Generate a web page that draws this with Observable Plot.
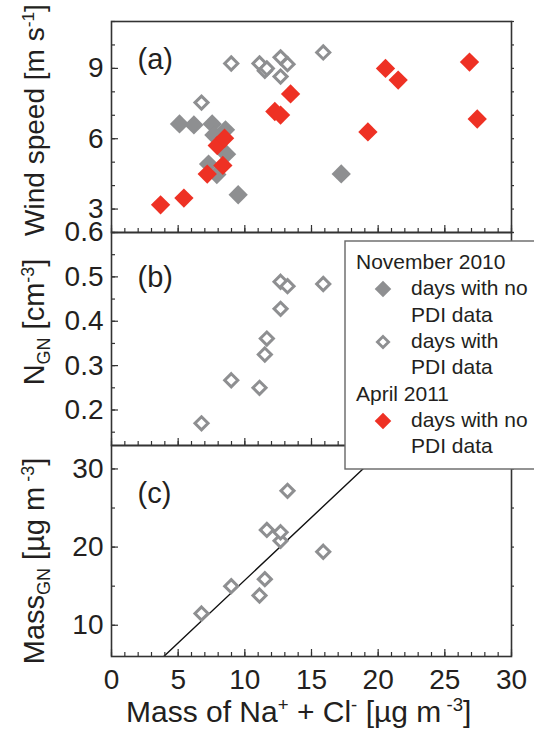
<!DOCTYPE html>
<html><head><meta charset="utf-8">
<script src="https://cdn.jsdelivr.net/npm/d3@7"></script>
<script src="https://cdn.jsdelivr.net/npm/@observablehq/plot@0.6"></script>
<style>
body{margin:0;background:#fff;}
#wrap{position:relative;width:534px;height:734px;overflow:hidden;background:#fff;}
#wrap svg{position:absolute;left:0;overflow:visible;}
</style></head><body><div id="wrap"></div>
<script>
// ---------- data ----------
const xMajor = [0, 5, 10, 15, 20, 25, 30];
const xMinor = d3.range(0, 31, 1);

// Panel (a): wind speed
const novNoPdiX    = [5.1, 6.18, 7.55, 8.55, 7.68, 8.63, 7.28, 7.9, 9.5, 17.23];
const novNoPdiWind = [6.63, 6.59, 6.63, 6.38, 6.16, 5.34, 4.92, 4.47, 3.61, 4.5];

const novPdiX    = [6.75, 8.98, 11.1, 11.5, 11.65, 12.68, 12.68, 13.2, 15.88];
const novPdiWind = [7.54, 9.21, 9.21, 8.9, 9.0, 8.65, 9.47, 9.18, 9.68];
const novPdiN    = [0.170, 0.267, 0.250, 0.325, 0.361, 0.428, 0.489, 0.479, 0.484];
const novPdiMass = [11.5, 15.0, 13.8, 15.9, 22.2, 20.8, 21.9, 27.2, 19.4];

const aprNoPdiX    = [3.68, 5.43, 7.18, 7.93, 8.48, 8.35, 12.25, 12.68, 13.43, 19.23, 20.55, 21.5, 26.85, 27.43];
const aprNoPdiWind = [3.18, 3.47, 4.49, 5.71, 6.02, 4.86, 7.16, 7.01, 7.91, 6.29, 9.0, 8.5, 9.27, 6.84];

// linear fit in panel (c)
const fitSlope = 1.606, fitIntercept = -0.29;
const fitRange = [3, 22];

const windTicks = [3, 6, 9], windMinor = d3.range(2, 12, 1);
const nTicks = [0.2, 0.3, 0.4, 0.5, 0.6], nMinor = d3.range(0.15, 0.61, 0.05);
const massTicks = [10, 20, 30], massMinor = [10, 15, 20, 25, 30];

// ---------- style ----------
const FONT = "'Liberation Sans', Arial, Helvetica, sans-serif";
const INK = "#231f20", FRAME = "#333";
const GREY = "#8e8f91", RED = "#ee3124";
const W = 534, ML = 111, MR = 23, PAD = 8, PW = W - ML - MR;
const wrap = document.getElementById("wrap");

const rows = (xs, ys) => xs.map((x, i) => ({x, y: ys[i]}));

function panel({top, plotH, mb, yDomain, yMinor, yMajor, fmt, label, labelDy, marks, extra = []}) {
  const svg = Plot.plot({
    width: W, height: PAD + plotH + mb,
    marginTop: PAD, marginBottom: mb, marginLeft: ML, marginRight: MR,
    style: {background: "transparent", fontFamily: FONT, overflow: "visible"},
    x: {domain: [0, 30], axis: null},
    y: {domain: yDomain, axis: null},
    marks: [
      ...marks,
      Plot.ruleX(xMinor, {x: d => d, insetTop: plotH - 4, stroke: FRAME, strokeWidth: 1.2}),
      Plot.ruleX(xMajor, {x: d => d, insetTop: plotH - 7, stroke: FRAME, strokeWidth: 1.2}),
      Plot.ruleY(yMinor, {y: d => d, insetRight: PW - 4, stroke: FRAME, strokeWidth: 1.2}),
      Plot.ruleY(yMajor, {y: d => d, insetRight: PW - 7, stroke: FRAME, strokeWidth: 1.2}),
      Plot.ruleY(yMinor, {y: d => d, insetLeft: PW, insetRight: -3, stroke: FRAME, strokeWidth: 1.2}),
      Plot.frame({stroke: FRAME, strokeWidth: 1.6}),
      Plot.text(yMajor, {y: d => d, text: fmt, frameAnchor: "left", dx: -8, textAnchor: "end", fontSize: 28, fill: INK}),
      Plot.text([label], {text: d => d, frameAnchor: "top-left", dx: 26, dy: labelDy, lineAnchor: "bottom", textAnchor: "start", fontSize: 29, fill: INK}),
      ...extra
    ]
  });
  svg.style.top = (top - PAD) + "px";
  wrap.appendChild(svg);
}

const filledDot = (data, color) => Plot.dot(data, {x: "x", y: "y", symbol: "diamond2", r: 8.7, fill: color, stroke: "none"});
const openDot = (data) => Plot.dot(data, {x: "x", y: "y", symbol: "diamond2", r: 5.9, fill: "white", stroke: GREY, strokeWidth: 3});

// (a)
panel({
  top: 21, plotH: 211, mb: PAD, yDomain: [2, 11], yMinor: windMinor, yMajor: windTicks,
  fmt: d => String(d), label: "(a)", labelDy: 47,
  marks: [
    filledDot(rows(novNoPdiX, novNoPdiWind), GREY),
    openDot(rows(novPdiX, novPdiWind)),
    filledDot(rows(aprNoPdiX, aprNoPdiWind), RED)
  ]
});
// (b)
panel({
  top: 232, plotH: 213, mb: PAD, yDomain: [0.12, 0.6], yMinor: nMinor, yMajor: nTicks,
  fmt: d => d.toFixed(1), label: "(b)", labelDy: 54,
  marks: [openDot(rows(novPdiX, novPdiN))]
});
// (c)
const fitLine = fitRange.map(x => ({x, y: fitSlope * x + fitIntercept}));
panel({
  top: 445, plotH: 211, mb: 734 - 656, yDomain: [6, 33], yMinor: massMinor, yMajor: massTicks,
  fmt: d => String(d), label: "(c)", labelDy: 57,
  marks: [
    Plot.line(fitLine, {x: "x", y: "y", stroke: "#111", strokeWidth: 1.4, clip: true}),
    openDot(rows(novPdiX, novPdiMass))
  ],
  extra: [
    Plot.text(xMajor, {x: d => d, text: d => String(d), frameAnchor: "bottom", dy: 13, lineAnchor: "top", fontSize: 28, fill: INK})
  ]
});

// ---------- overlay: axis titles and legend ----------
const ov = d3.create("svg").attr("width", W).attr("height", 734)
  .style("top", "0px").style("left", "0px")
  .attr("font-family", FONT).attr("fill", INK);

function rich(sel, parts, size) {
  let shift = 0;
  for (const [s, k] of parts) {
    const target = k === "sup" ? -0.36 * size : k === "sub" ? 0.22 * size : 0;
    sel.append("tspan").attr("dy", target - shift).attr("font-size", k ? size * 0.62 : size).text(s);
    shift = target;
  }
}
function yTitle(cy, parts, size) {
  const t = ov.append("text").attr("transform", `translate(44,${cy}) rotate(-90)`)
    .attr("text-anchor", "middle").attr("font-size", size);
  rich(t, parts, size);
}
yTitle(120, [["Wind speed [m s"], ["-1", "sup"], ["]"]], 28);
yTitle(322, [["N"], ["GN", "sub"], [" [cm"], ["-3", "sup"], ["]"]], 29);
yTitle(561, [["Mass"], ["GN", "sub"], [" [µg m"], [" -3", "sup"], ["]"]], 29);

const xt = ov.append("text").attr("x", 126).attr("y", 722).attr("font-size", 30);
rich(xt, [["Mass of Na"], ["+", "sup"], [" + Cl"], ["-", "sup"], [" [µg m"], [" -3", "sup"], ["]"]], 30);

// legend
const lg = ov.append("g");
lg.append("rect").attr("x", 345).attr("y", 241).attr("width", 220).attr("height", 228)
  .attr("fill", "white").attr("stroke", "#666").attr("stroke-width", 1.4);
const LFS = 21;
const ltxt = (x, y, s) => lg.append("text").attr("x", x).attr("y", y).attr("font-size", LFS).text(s);
ltxt(356, 269, "November 2010");
ltxt(411, 295, "days with no");
ltxt(411, 322, "PDI data");
ltxt(411, 348, "days with");
ltxt(411, 374, "PDI data");
ltxt(356, 401, "April 2011");
ltxt(411, 427, "days with no");
ltxt(411, 453, "PDI data");
const sym = d3.symbol(d3.symbolDiamond2);
lg.append("path").attr("d", sym.size(175)()).attr("transform", "translate(383,289)").attr("fill", GREY);
lg.append("path").attr("d", sym.size(80)()).attr("transform", "translate(383,342)").attr("fill", "white").attr("stroke", GREY).attr("stroke-width", 2.8);
lg.append("path").attr("d", sym.size(175)()).attr("transform", "translate(383,421)").attr("fill", RED);

wrap.appendChild(ov.node());
</script>
</body></html>
